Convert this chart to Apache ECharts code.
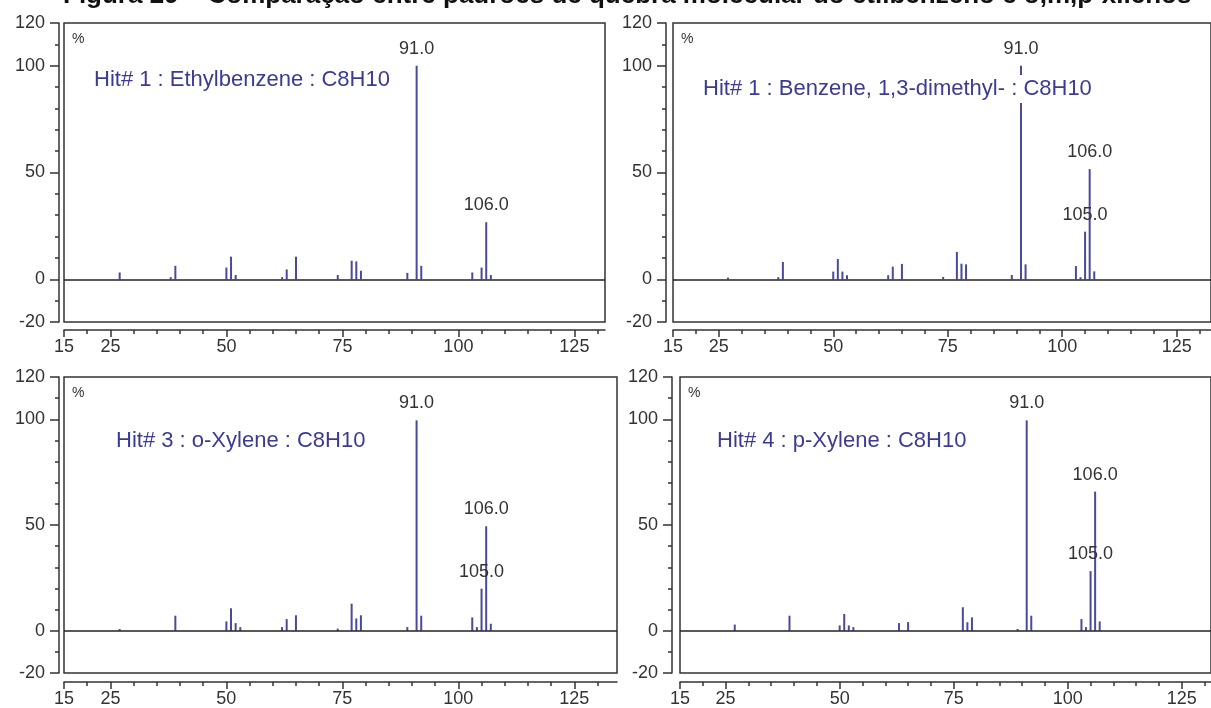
<!DOCTYPE html>
<html style="height: 100%">
<head>
<meta charset="utf-8">
<title>Figura 29</title>
<script src="https://cdn.jsdelivr.net/npm/echarts@6/dist/echarts.min.js"></script>
</head>
<body style="height: 100%; margin: 0; background: #fff">
<div id="container" style="width: 1211px; height: 708px"></div>
<script type="text/javascript">
// peaks (m/z, relative intensity %)
var mzEthyl  = [27, 38, 39, 50, 51, 52, 62, 63, 65, 74, 77, 78, 79, 89, 91, 92, 103, 105, 106, 107];
var intEthyl = [3.2, 1, 6.3, 5.5, 10.6, 2, 1, 4.6, 10.6, 2, 8.7, 8.4, 4, 3, 100, 6.3, 3.2, 5.5, 26.7, 2];

var mzMeta  = [27, 38, 39, 50, 51, 52, 53, 62, 63, 65, 74, 77, 78, 79, 89, 91, 92, 103, 104, 105, 106, 107];
var intMeta = [0.8, 1, 8.1, 3.6, 9.5, 3.6, 1.9, 1.9, 5.9, 7.2, 1.1, 12.8, 7.3, 7, 2, 100, 7, 6.2, 1, 22.3, 51.6, 3.7];

var mzOrtho  = [27, 39, 50, 51, 52, 53, 62, 63, 65, 74, 77, 78, 79, 89, 91, 92, 103, 104, 105, 106, 107];
var intOrtho = [0.8, 7.1, 4.4, 10.6, 3.6, 1.7, 1.7, 5.5, 7.3, 1, 12.8, 5.8, 7.3, 1.7, 99.5, 7.1, 6.3, 1.7, 19.9, 49.4, 3.3];

var mzPara  = [27, 39, 50, 51, 52, 53, 63, 65, 77, 78, 79, 89, 91, 92, 103, 104, 105, 106, 107];
var intPara = [2.9, 7.1, 2.5, 7.9, 2.5, 1.7, 3.6, 4.1, 11.1, 4, 6.3, 0.8, 99.5, 7.1, 5.5, 1.7, 28.2, 65.8, 4.4];

var labelEthyl = [91, 106];
var labelXylene = [91, 105, 106];

var hitNames = [
    'Hit# 1 : Ethylbenzene : C8H10',
    'Hit# 1 : Benzene, 1,3-dimethyl- : C8H10',
    'Hit# 3 : o-Xylene : C8H10',
    'Hit# 4 : p-Xylene : C8H10'
];
var figTitle = 'Figura 29 – Comparação entre padrões de quebra molecular do etilbenzeno e o,m,p-xilenos';

var xMajor = [15, 25, 50, 75, 100, 125];
var xMinor = [20, 30, 35, 40, 45, 55, 60, 65, 70, 80, 85, 90, 95, 105, 110, 115, 120, 130];
var yMajor = [-20, 0, 50, 100, 120];
var yMinor = [-10, 10, 20, 30, 40, 60, 70, 80, 90, 110];

var dom = document.getElementById('container');
var myChart = echarts.init(dom);

var ink = '#333';
var barColor = '#4a4a9c';
var hitColor = '#3b3b94';

// panel layout: grid box, axis offsets, x max
var panels = [
    {left: 64,  top: 23,  width: 541, height: 299, xOff: 8, yOff: 5, xMax: 131.6, tx: 92,  ty: 66},
    {left: 673, top: 23,  width: 545, height: 299, xOff: 8, yOff: 7, xMax: 132.5, tx: 701, ty: 75},
    {left: 64,  top: 377, width: 553, height: 296, xOff: 9, yOff: 5, xMax: 134.2, tx: 114, ty: 427},
    {left: 680, top: 377, width: 540, height: 296, xOff: 9, yOff: 8, xMax: 131.4, tx: 715, ty: 427}
];
var spectra = [
    [mzEthyl, intEthyl, labelEthyl],
    [mzMeta, intMeta, labelXylene],
    [mzOrtho, intOrtho, labelXylene],
    [mzPara, intPara, labelXylene]
];

var grids = [], xAxes = [], yAxes = [], series = [];
var titles = [{
    text: figTitle, left: 58, top: -22,
    textStyle: {fontFamily: 'Arial', fontSize: 26, fontWeight: 'bold', color: '#111'}
}];

panels.forEach(function (p, i) {
    grids.push({left: p.left, top: p.top, width: p.width, height: p.height,
        show: true, borderColor: ink, borderWidth: 1.5, backgroundColor: '#fff'});

    var xBase = {gridIndex: i, type: 'value', min: 15, max: p.xMax, position: 'bottom', offset: p.xOff,
        splitLine: {show: false}};
    xAxes.push(Object.assign({}, xBase, {
        axisLine: {show: true, onZero: false, lineStyle: {color: ink, width: 1.5}},
        axisTick: {show: true, length: 7, customValues: xMajor, lineStyle: {color: ink, width: 1.5}},
        axisLabel: {show: true, customValues: xMajor, margin: 8, fontFamily: 'Arial', fontSize: 18, color: ink}
    }));
    xAxes.push(Object.assign({}, xBase, {
        axisLine: {show: false, onZero: false},
        axisTick: {show: true, length: 4, customValues: xMinor, lineStyle: {color: ink, width: 1.5}},
        axisLabel: {show: false}
    }));

    var yBase = {gridIndex: i, type: 'value', min: -20, max: 120, position: 'left', offset: p.yOff,
        splitLine: {show: false}};
    yAxes.push(Object.assign({}, yBase, {
        axisLine: {show: true, onZero: false, lineStyle: {color: ink, width: 1.5}},
        axisTick: {show: true, length: 9, customValues: yMajor, lineStyle: {color: ink, width: 1.5}},
        axisLabel: {show: true, customValues: yMajor, margin: 14, fontFamily: 'Arial', fontSize: 18, color: ink}
    }));
    yAxes.push(Object.assign({}, yBase, {
        axisLine: {show: false, onZero: false},
        axisTick: {show: true, length: 4, customValues: yMinor, lineStyle: {color: ink, width: 1.5}},
        axisLabel: {show: false}
    }));

    var mz = spectra[i][0], inten = spectra[i][1], marks = spectra[i][2];
    var data = mz.map(function (m, k) {
        var item = {value: [m, inten[k]]};
        if (marks.indexOf(m) >= 0) {
            item.label = {show: true, position: 'top', distance: 8, formatter: m.toFixed(1),
                fontFamily: 'Arial', fontSize: 18, color: ink};
        }
        return item;
    });
    series.push({
        type: 'bar', xAxisIndex: 2 * i, yAxisIndex: 2 * i, barWidth: 2,
        itemStyle: {color: barColor}, data: data,
        markLine: {silent: true, symbol: ['none', 'none'], label: {show: false},
            lineStyle: {color: '#222', width: 1.5, type: 'solid'}, data: [{yAxis: 0}]}
    });

    titles.push({text: hitNames[i], left: p.tx, top: p.ty, backgroundColor: '#fff', padding: [3, 2],
        textStyle: {fontFamily: 'Arial', fontSize: 22, fontWeight: 'normal', color: hitColor}});
    titles.push({text: '%', left: p.left + 8, top: p.top + 9, padding: 0,
        textStyle: {fontFamily: 'Arial', fontSize: 14, fontWeight: 'normal', color: ink}});
});

var option = {
    animation: false,
    backgroundColor: '#fff',
    title: titles,
    grid: grids,
    xAxis: xAxes,
    yAxis: yAxes,
    series: series
};
myChart.setOption(option);
</script>
</body>
</html>
